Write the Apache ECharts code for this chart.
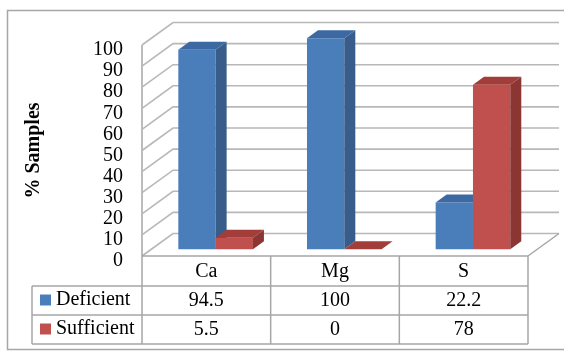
<!DOCTYPE html>
<html>
<head>
<meta charset="utf-8">
<script src="https://cdn.jsdelivr.net/npm/echarts@6/dist/echarts.min.js"></script>
<style>
  html, body { margin: 0; padding: 0; background: #fff; }
  #chart { width: 564px; height: 352px; }
</style>
</head>
<body>
<div id="chart"></div>
<script>
// Nutrient status of the samples (% of samples)
const categories = ['Ca', 'Mg', 'S'];
const deficient = [94.5, 100, 22.2];
const sufficient = [5.5, 0, 78];
const gridTicks = [0, 10, 20, 30, 40, 50, 60, 70, 80, 90, 100];

const FONT = '"Liberation Serif", "Times New Roman", serif';
const DX = 31, DY = 22.5;         // projected depth of the floor / walls
const Z0 = 0.3, Z1 = 0.655;       // front and back depth of the bars
const BAR_RATIO = 0.29;           // bar width as a share of the category band
const TABLE_LEFT = 32;            // left edge of the data-table legend column
const ROWS = [30, 29, 29];        // header row, then one row per series
const LINE = '#a6a6a6';
const GRID_LINE = '#b8b8b8';

// Walls, floor and data-table rules
function renderFrame(params, api) {
  const cs = params.coordSys;
  const L = cs.x, R = cs.x + cs.width;
  const y = api.coord([0, api.value(1)])[1];
  const children = [{
    type: 'polyline',
    shape: { points: [[L, y], [L + DX, y - DY], [R + DX, y - DY]] },
    style: { stroke: GRID_LINE, lineWidth: 1.6, fill: null }
  }];
  if (params.dataIndex === 0) {
    const band = cs.width / categories.length;
    const r1 = y + ROWS[0], r2 = r1 + ROWS[1], r3 = r2 + ROWS[2];
    const seg = (x1, y1, x2, y2) => ({
      type: 'line', shape: { x1, y1, x2, y2 }, style: { stroke: LINE, lineWidth: 1.5 }
    });
    children.push(seg(R, y, R + DX, y - DY));
    children.push(seg(L, y, R, y));
    [r1, r2, r3].forEach(yy => children.push(seg(TABLE_LEFT, yy, R, yy)));
    children.push(seg(TABLE_LEFT, r1, TABLE_LEFT, r3));
    children.push(seg(L, cs.y, L, r3));
    for (let k = 1; k <= categories.length; k++) {
      children.push(seg(L + band * k, y, L + band * k, r3));
    }
  }
  return { type: 'group', children };
}

// 3D column (front, side, top) plus its cell in the data table
function makeBarRenderer(slot, row, colors) {
  return function (params, api) {
    const i = api.value(0), v = api.value(1);
    const base = api.coord([i, 0]);
    const top = api.coord([i, v]);
    const w = api.size([1, 0])[0] * BAR_RATIO;
    const x0 = base[0] + slot * w + Z0 * DX, x1 = x0 + w;
    const yb = base[1] - Z0 * DY, yt = top[1] - Z0 * DY;
    const dx = (Z1 - Z0) * DX, dy = (Z1 - Z0) * DY;
    const children = [];
    if (yb - yt > 0.5) {
      children.push({ type: 'rect', shape: { x: x0, y: yt, width: w, height: yb - yt },
        style: { fill: colors[0] } });
      children.push({ type: 'polygon',
        shape: { points: [[x1, yb], [x1 + dx, yb - dy], [x1 + dx, yt - dy], [x1, yt]] },
        style: { fill: colors[1] } });
    }
    children.push({ type: 'polygon',
      shape: { points: [[x0, yt], [x1, yt], [x1 + dx, yt - dy], [x0 + dx, yt - dy]] },
      style: { fill: colors[2] } });
    const rowY = base[1] + ROWS[0] + ROWS[1] * row + ROWS[1] / 2;
    children.push({ type: 'text', x: base[0], y: rowY,
      style: { text: String(v), font: '20px ' + FONT, fill: '#000',
        align: 'center', verticalAlign: 'middle' } });
    return { type: 'group', children };
  };
}

const BLUE = ['#4a7ebb', '#385d8a', '#3d69a3'];
const RED = ['#c0504d', '#8c3633', '#a33d3a'];

const chart = echarts.init(document.getElementById('chart'), null, { renderer: 'canvas' });
chart.setOption({
  animation: false,
  backgroundColor: '#fff',
  graphic: [{
    type: 'rect', shape: { x: 7.5, y: 10.5, width: 570, height: 339 },
    style: { fill: null, stroke: '#a6a6a6', lineWidth: 1.5 }, z: -1
  }],
  grid: { left: 142, right: 36, top: 45, bottom: 96 },
  legend: {
    data: ['Deficient', 'Sufficient'],
    orient: 'vertical', left: 35, top: 285,
    icon: 'rect', itemWidth: 11, itemHeight: 11, itemGap: 9, itemTextGap: 4,
    textStyle: { fontFamily: FONT, fontSize: 20, color: '#000' }
  },
  xAxis: {
    type: 'category', data: categories,
    axisLine: { show: false }, axisTick: { show: false }, splitLine: { show: false },
    axisLabel: { margin: 6, fontFamily: FONT, fontSize: 20, color: '#000' }
  },
  yAxis: {
    type: 'value', min: 0, max: 100, interval: 10,
    name: '% Samples', nameLocation: 'middle', nameGap: 98,
    nameTextStyle: { fontFamily: FONT, fontSize: 20, fontWeight: 'bold', color: '#000' },
    axisLine: { show: false }, axisTick: { show: false }, splitLine: { show: false },
    axisLabel: { margin: 19, fontFamily: FONT, fontSize: 20, color: '#000',
      verticalAlign: 'top', lineHeight: 10 }
  },
  series: [
    {
      name: 'frame', type: 'custom', z: 1, clip: false, silent: true,
      data: gridTicks.map(v => [0, v]), encode: { x: 0, y: 1 },
      renderItem: renderFrame
    },
    {
      name: 'Deficient', type: 'custom', z: 2, clip: false,
      itemStyle: { color: BLUE[0] },
      data: deficient.map((v, i) => [i, v]), encode: { x: 0, y: 1 },
      renderItem: makeBarRenderer(-1, 0, BLUE)
    },
    {
      name: 'Sufficient', type: 'custom', z: 2, clip: false,
      itemStyle: { color: RED[0] },
      data: sufficient.map((v, i) => [i, v]), encode: { x: 0, y: 1 },
      renderItem: makeBarRenderer(0, 1, RED)
    }
  ]
});
</script>
</body>
</html>
